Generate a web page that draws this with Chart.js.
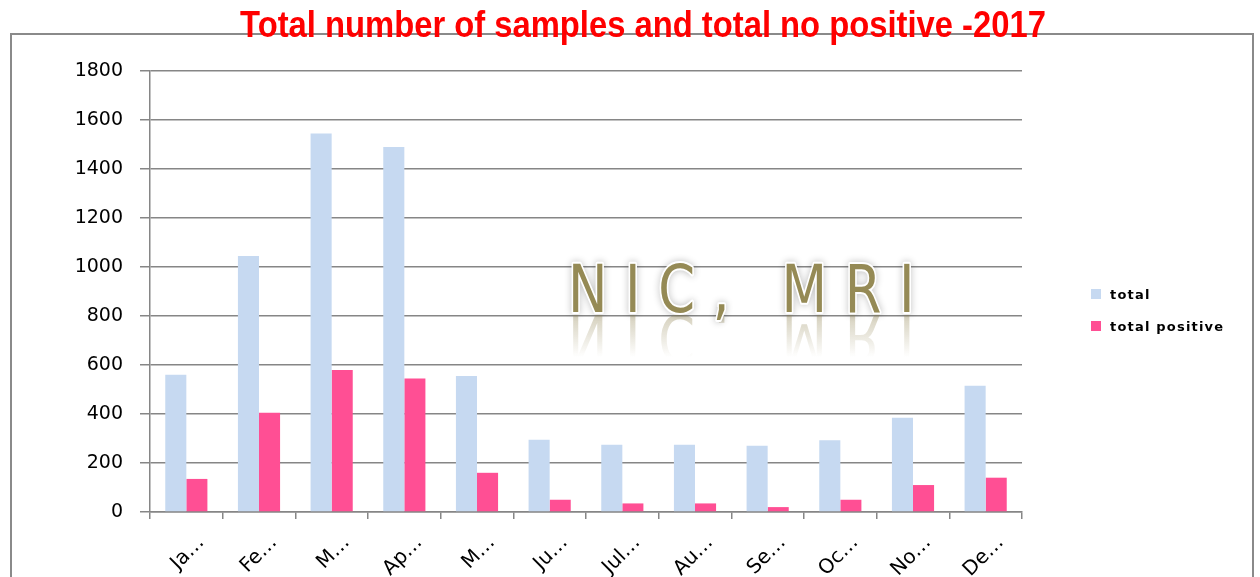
<!DOCTYPE html>
<html>
<head>
<meta charset="utf-8">
<script src="https://cdn.jsdelivr.net/npm/chart.js@4/dist/chart.umd.min.js"></script>
<style>
  html, body { margin: 0; padding: 0; background: #fff; }
  #wrap { position: relative; width: 1260px; height: 577px; overflow: hidden; }
  #frame { position: absolute; left: 10px; top: 33px; width: 1244px; height: 600px; border: 2px solid #8a8a8a; box-sizing: border-box; }
  #chart { position: absolute; left: 0; top: 0; }
  #title {
    position: absolute; left: 0; width: 1286px; top: 4px; text-align: center;
    font: bold 36px "Liberation Sans", sans-serif;
    color: #ff0000; transform: scaleX(0.91); transform-origin: 643px 0;
  }
  #legend { position: absolute; left: 1091px; top: 286px; font: bold 13px "DejaVu Sans", sans-serif; letter-spacing: 1.2px; color: #000; }
  #legend div { display: flex; align-items: center; height: 16px; margin-bottom: 16px; }
  #legend span.box { display: inline-block; width: 10px; height: 10px; margin-right: 9px; }
</style>
</head>
<body>
<div id="wrap">
  <div id="frame"></div>
  <canvas id="chart" width="1260" height="577"></canvas>
  <div id="title">Total number of samples and total no positive -2017</div>
  <div id="legend"></div>
</div>
<script>
// data
const months = ['Ja…', 'Fe…', 'M…', 'Ap…', 'M…', 'Ju…', 'Jul…', 'Au…', 'Se…', 'Oc…', 'No…', 'De…'];
const totalSamples = [560, 1045, 1545, 1490, 555, 295, 275, 275, 270, 293, 385, 515];
const totalPositive = [135, 405, 580, 545, 160, 50, 35, 35, 20, 50, 110, 140];
const yTicks = [0, 200, 400, 600, 800, 1000, 1200, 1400, 1600, 1800];

const GRID = '#868686';
const BLUE = '#c6d9f1';
const PINK = '#ff4f94';

// watermark "NIC, MRI" with its reflection
const watermark = {
  id: 'watermark',
  afterDraw(chart) {
    const ctx = chart.ctx;
    const x = 568, base = 312, sx = 0.8;
    ctx.save();
    ctx.font = '400 66px "DejaVu Sans", sans-serif';
    ctx.letterSpacing = '22px';
    ctx.textAlign = 'left';
    ctx.textBaseline = 'alphabetic';
    // reflection
    ctx.save();
    ctx.translate(x, base * 2 + 3);
    ctx.scale(sx, -1);
    const g = ctx.createLinearGradient(0, base, 0, base - 42);
    g.addColorStop(0, 'rgba(150,138,90,0.4)');
    g.addColorStop(1, 'rgba(150,138,90,0)');
    ctx.fillStyle = g;
    ctx.fillText('NIC, MRI', 0, base);
    ctx.restore();
    // glow + white outline
    ctx.translate(x, base);
    ctx.scale(sx, 1);
    ctx.shadowColor = 'rgba(0,0,0,0.3)';
    ctx.shadowBlur = 7;
    ctx.lineWidth = 4;
    ctx.strokeStyle = '#ffffff';
    ctx.lineJoin = 'round';
    ctx.strokeText('NIC, MRI', 0, 0);
    ctx.shadowBlur = 0;
    ctx.shadowColor = 'transparent';
    ctx.fillStyle = '#958a55';
    ctx.fillText('NIC, MRI', 0, 0);
    ctx.restore();
  }
};

const chart = new Chart(document.getElementById('chart'), {
  type: 'bar',
  data: {
    labels: months,
    datasets: [
      { label: 'total', data: totalSamples, backgroundColor: BLUE },
      { label: 'total positive', data: totalPositive, backgroundColor: PINK }
    ]
  },
  options: {
    responsive: false,
    animation: false,
    events: [],
    categoryPercentage: 0.58,
    barPercentage: 1.0,
    layout: { padding: { left: 0, right: 238, top: 71, bottom: 0 } },
    plugins: { legend: { display: false }, tooltip: { enabled: false }, title: { display: false } },
    scales: {
      x: {
        offset: true,
        grid: { offset: true, drawOnChartArea: false, drawTicks: true, tickLength: 7, color: GRID, lineWidth: 1.5 },
        border: { display: true, color: GRID, width: 1.5 },
        ticks: {
          minRotation: 45, maxRotation: 45, autoSkip: false, padding: 12, labelOffset: 15,
          color: '#000', font: { family: 'DejaVu Sans', size: 20 }
        },
        afterFit(s) { s.height = 65; }
      },
      y: {
        min: 0, max: 1800,
        afterBuildTicks(s) { s.ticks = yTicks.map(v => ({ value: v })); },
        grid: { color: GRID, lineWidth: 1.5, tickLength: 10 },
        border: { display: true, color: GRID, width: 1.5 },
        ticks: {
          padding: 17, color: '#000', font: { family: 'DejaVu Sans', size: 19 },
          callback: v => String(v)
        },
        afterFit(s) { s.width = 150; }
      }
    }
  },
  plugins: [watermark]
});

// legend on the right, built from the datasets
const legend = document.getElementById('legend');
chart.data.datasets.forEach(ds => {
  const row = document.createElement('div');
  row.innerHTML = '<span class="box" style="background:' + ds.backgroundColor + '"></span>' + ds.label;
  legend.appendChild(row);
});
</script>
</body>
</html>
